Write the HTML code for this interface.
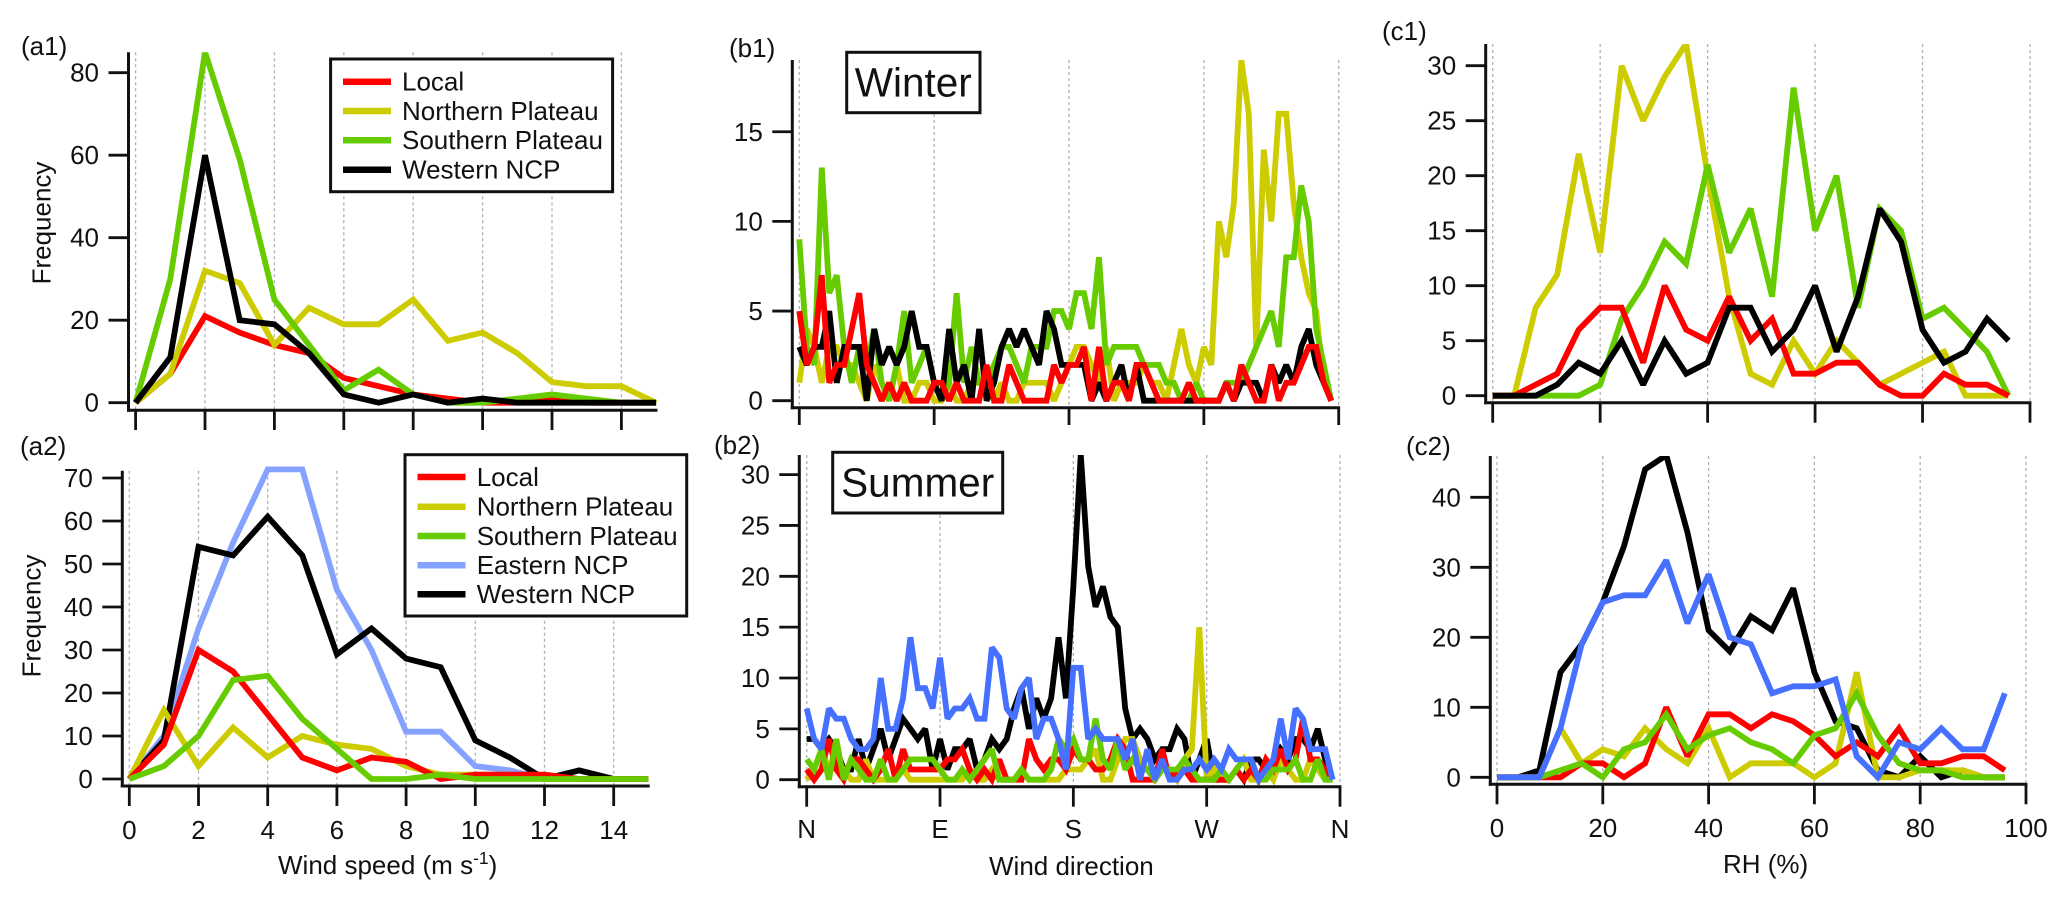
<!DOCTYPE html>
<html lang="en">
<head>
<meta charset="utf-8">
<title>Frequency distributions of wind speed, wind direction and RH</title>
<style>
html,body{margin:0;padding:0;background:#fff;}
svg{display:block;font-family:"Liberation Sans",Arial,sans-serif;}
text{fill:#111;}
</style>
</head>
<body>
<svg id="chart" xmlns="http://www.w3.org/2000/svg" width="2067" height="900" viewBox="0 0 2067 900">
<rect x="0" y="0" width="2067" height="900" fill="#fff"/>
<g id="marks"></g>

<text x="21" y="55" font-size="26">(a1)</text>
<text x="20" y="455" font-size="26">(a2)</text>
<text x="729" y="57" font-size="26">(b1)</text>
<text x="714" y="454" font-size="26">(b2)</text>
<text x="1382" y="40" font-size="26">(c1)</text>
<text x="1406" y="455" font-size="26">(c2)</text>

<text transform="translate(50.7,223) rotate(-90)" text-anchor="middle" font-size="26">Frequency</text>
<text transform="translate(40.5,616) rotate(-90)" text-anchor="middle" font-size="26">Frequency</text>
<text x="278" y="874" font-size="26">Wind speed (m s<tspan dy="-10" font-size="17.5">-1</tspan><tspan dy="10">)</tspan></text>
<text x="989" y="875" font-size="26">Wind direction</text>
<text x="1723" y="873" font-size="26">RH (%)</text>

<g>
<rect x="846.7" y="52.3" width="133.3" height="60.4" fill="#fff" stroke="#111" stroke-width="3"/>
<text x="913.3" y="96.5" text-anchor="middle" font-size="40.5">Winter</text>
</g>
<g>
<rect x="832.7" y="452.3" width="170" height="60.7" fill="#fff" stroke="#111" stroke-width="3"/>
<text x="917.7" y="496.5" text-anchor="middle" font-size="40.5">Summer</text>
</g>

<g>
<rect x="330.6" y="59" width="282" height="132.7" fill="#fff" stroke="#111" stroke-width="3"/>
<g><line x1="343" x2="391" y1="81.7" y2="81.7" stroke="#ff0000" stroke-width="6.5"/><text x="402" y="90.5" font-size="26">Local</text></g>
<g><line x1="343" x2="391" y1="111" y2="111" stroke="#cccc00" stroke-width="6.5"/><text x="402" y="119.8" font-size="26">Northern Plateau</text></g>
<g><line x1="343" x2="391" y1="140.3" y2="140.3" stroke="#66cc00" stroke-width="6.5"/><text x="402" y="149.1" font-size="26">Southern Plateau</text></g>
<g><line x1="343" x2="391" y1="169.7" y2="169.7" stroke="#000" stroke-width="6.5"/><text x="402" y="178.5" font-size="26">Western NCP</text></g>
</g>
<g>
<rect x="405" y="454.7" width="281.7" height="161.3" fill="#fff" stroke="#111" stroke-width="3"/>
<g><line x1="417.5" x2="465.5" y1="477" y2="477" stroke="#ff0000" stroke-width="6.5"/><text x="476.7" y="485.8" font-size="26">Local</text></g>
<g><line x1="417.5" x2="465.5" y1="506.7" y2="506.7" stroke="#cccc00" stroke-width="6.5"/><text x="476.7" y="515.5" font-size="26">Northern Plateau</text></g>
<g><line x1="417.5" x2="465.5" y1="536" y2="536" stroke="#66cc00" stroke-width="6.5"/><text x="476.7" y="544.8" font-size="26">Southern Plateau</text></g>
<g><line x1="417.5" x2="465.5" y1="565.3" y2="565.3" stroke="#85a2ff" stroke-width="6.5"/><text x="476.7" y="574.1" font-size="26">Eastern NCP</text></g>
<g><line x1="417.5" x2="465.5" y1="594.3" y2="594.3" stroke="#000" stroke-width="6.5"/><text x="476.7" y="603.1" font-size="26">Western NCP</text></g>
</g>
</svg>

<script>
// ---- categories ----
const speedBins = [0,1,2,3,4,5,6,7,8,9,10,11,12,13,14,15];
const directionBins = [0,5,10,15,20,25,30,35,40,45,50,55,60,65,70,75,80,85,90,95,100,105,110,115,120,125,130,135,140,145,150,155,160,165,170,175,180,185,190,195,200,205,210,215,220,225,230,235,240,245,250,255,260,265,270,275,280,285,290,295,300,305,310,315,320,325,330,335,340,345,350,355];
const rhBins = [0,4,8,12,16,20,24,28,32,36,40,44,48,52,56,60,64,68,72,76,80,84,88,92,96];

// ---- tick labels ----
const speedTicks = [0,2,4,6,8,10,12,14];
const directionTicks = [0,90,180,270,360];
const directionTickLabels = ['N','E','S','W','N'];
const rhTicks = [0,20,40,60,80,100];
const a1YTicks = [0,20,40,60,80];
const a2YTicks = [0,10,20,30,40,50,60,70];
const b1YTicks = [0,5,10,15];
const b2YTicks = [0,5,10,15,20,25,30];
const c1YTicks = [0,5,10,15,20,25,30];
const c2YTicks = [0,10,20,30,40];

// ---- (a1) winter wind speed ----
const a1Local    = [0,7,21,17,14,12,6,4,2,1,0,0,1,0,0,0];
const a1Northern = [0,7,32,29,14,23,19,19,25,15,17,12,5,4,4,0];
const a1Southern = [0,30,85,59,25,14,3,8,2,0,0,1,2,1,0,0];
const a1Western  = [0,11,60,20,19,12,2,0,2,0,1,0,0,0,0,0];

// ---- (a2) summer wind speed ----
const a2Local    = [0,8,30,25,15,5,2,5,4,0,1,1,1,0,0,0];
const a2Northern = [0,16,3,12,5,10,8,7,3,1,1,1,0,0,0,0];
const a2Southern = [0,3,10,23,24,14,7,0,0,1,0,0,0,0,0,0];
const a2Eastern  = [0,10,35,55,72,72,44,30,11,11,3,2,0,0,0,0];
const a2Western  = [0,9,54,52,61,52,29,35,28,26,9,5,0,2,0,0];

// ---- (b1) winter wind direction ----
const b1Local    = [5,2,3,7,1,2,2,4,6,2,1,0,1,0,1,0,0,0,1,1,0,1,0,0,0,2,0,0,2,1,0,0,0,0,2,1,2,2,3,0,3,0,1,1,0,2,2,1,0,0,0,0,1,0,0,0,0,1,0,2,1,0,0,2,0,1,1,2,3,3,1,0];
const b1Northern = [1,4,3,1,3,3,2,2,1,0,2,1,0,2,0,0,1,1,0,0,1,0,0,1,1,1,0,1,0,0,1,1,1,1,0,1,2,3,3,2,1,3,0,1,1,1,2,1,1,0,2,4,2,1,3,2,10,8,11,19,16,3,14,10,16,16,11,8,6,5,1,0];
const b1Southern = [9,3,2,13,6,7,3,1,3,2,4,1,0,2,5,1,2,3,1,0,1,6,1,3,1,1,2,3,3,2,1,3,3,3,5,5,4,6,6,4,8,2,3,3,3,3,2,2,2,1,1,0,0,1,0,0,0,1,1,1,2,3,4,5,3,8,8,12,10,4,2,0];
const b1Western  = [3,2,3,3,5,1,3,3,3,0,4,2,3,2,3,5,3,3,1,0,4,1,2,0,4,0,1,3,4,3,4,3,2,5,4,2,2,2,2,0,1,0,1,2,0,2,0,0,0,0,0,0,0,0,0,0,0,1,0,1,1,1,0,2,1,2,1,3,4,2,1,0];

// ---- (b2) summer wind direction ----
const b2Local    = [1,0,1,4,1,0,2,2,1,0,1,3,0,3,1,1,1,1,1,2,2,3,1,0,1,0,2,0,0,0,4,2,1,2,2,1,3,2,2,1,1,2,4,3,0,0,0,0,3,0,1,1,0,0,0,0,0,0,1,0,1,0,2,1,3,1,2,6,2,2,1,0];
const b2Northern = [0,1,3,1,2,1,0,0,2,0,0,0,0,1,0,0,0,0,0,0,0,0,1,0,0,1,0,0,0,1,0,0,0,0,0,1,1,1,2,3,0,0,2,4,4,2,1,0,1,1,0,2,3,15,0,1,0,0,1,2,0,0,1,0,2,1,0,0,2,1,0,0];
const b2Southern = [2,1,3,0,4,0,2,1,0,0,2,0,0,1,2,2,2,2,1,0,0,1,0,1,2,3,0,0,0,1,0,0,0,1,4,3,4,2,2,6,2,1,4,1,2,1,1,0,1,1,1,2,1,0,0,0,1,0,1,2,2,0,0,1,1,1,2,0,0,2,0,0];
const b2Eastern  = [7,4,3,7,6,6,4,3,3,4,10,5,5,8,14,9,9,7,12,6,7,7,8,6,6,13,12,7,6,9,10,4,6,6,4,1,11,11,4,5,4,4,4,2,4,0,3,0,2,0,0,1,1,2,1,2,1,3,2,2,2,0,1,2,6,2,7,6,3,3,3,0];
const b2Western  = [4,4,3,4,3,1,1,4,1,3,5,2,4,6,5,4,5,1,4,1,3,3,4,1,2,4,3,4,7,9,5,8,6,8,14,8,19,32,21,17,19,16,15,7,4,5,4,2,3,3,5,4,0,2,4,0,0,0,1,0,2,2,1,1,3,2,4,4,3,5,2,0];

// ---- (c1) winter RH ----
const c1Local    = [0,0,1,2,6,8,8,3,10,6,5,9,5,7,2,2,3,3,1,0,0,2,1,1,0];
const c1Northern = [0,0,8,11,22,13,30,25,29,32,20,9,2,1,5,2,5,3,1,2,3,4,0,0,0];
const c1Southern = [0,0,0,0,0,1,7,10,14,12,21,13,17,9,28,15,20,8,17,15,7,8,6,4,0];
const c1Western  = [0,0,0,1,3,2,5,1,5,2,3,8,8,4,6,10,4,9,17,14,6,3,4,7,5];

// ---- (c2) summer RH ----
const c2Local    = [0,0,0,0,2,2,0,2,10,3,9,9,7,9,8,6,3,5,3,7,2,2,3,3,1];
const c2Northern = [0,0,0,7,2,4,3,7,4,2,7,0,2,2,2,0,2,15,0,0,1,1,1,0,0];
const c2Southern = [0,0,0,1,2,0,4,5,9,4,6,7,5,4,2,6,7,12,6,2,1,1,0,0,0];
const c2Eastern  = [0,0,0,7,19,25,26,26,31,22,29,20,19,12,13,13,14,3,0,5,4,7,4,4,12];
const c2Western  = [0,0,1,15,19,25,33,44,46,35,21,18,23,21,27,15,8,7,1,0,3,0,1,0,0];

// ---- colours ----
const RED = '#ff0000', YELLOW = '#cccc00', GREEN = '#66cc00', BLACK = '#000000', PALE_BLUE = '#85a2ff', BLUE = '#4670ff';

const SVG_NS = 'http://www.w3.org/2000/svg';
const root = document.getElementById('marks');

function make(tag, attrs, parent, name) {
  const el = document.createElementNS(SVG_NS, tag);
  for (const k in attrs) el.setAttribute(k, attrs[k]);
  
  
  parent.appendChild(el);
  return el;
}

function drawPanel(p) {
  const xScale = v => p.xLeft + (v - p.xMin) / (p.xMax - p.xMin) * (p.xRight - p.xLeft);
  const yScale = v => p.yZero - v * p.yPerUnit;
  const g = make('g', {}, root, 'panel-' + p.id);
  const clipTop = p.clipTop === undefined ? p.top : p.clipTop;

  const defs = make('defs', {}, g, 'clip-defs-' + p.id);
  const clip = make('clipPath', { id: 'clip-' + p.id }, defs, 'clip-' + p.id);
  make('rect', { x: p.axisX, y: clipTop, width: p.xRight - p.axisX + 4, height: p.axisY - clipTop }, clip, 'clip-rect-' + p.id);

  // vertical dotted grid
  p.xTicks.forEach(t => {
    make('line', { x1: xScale(t), x2: xScale(t), y1: p.top, y2: p.axisY, stroke: '#b0b0b0', 'stroke-width': 1.3, 'stroke-dasharray': '3 3' }, g, 'grid-line-' + p.id);
  });

  // series
  const lines = make('g', { 'clip-path': 'url(#clip-' + p.id + ')' }, g, 'series-' + p.id);
  p.series.forEach(s => {
    const pts = s.values.map((v, i) => xScale(p.categories[i]).toFixed(2) + ',' + yScale(v).toFixed(2)).join(' ');
    make('polyline', { points: pts, fill: 'none', stroke: s.color, 'stroke-width': 5.8, 'stroke-linejoin': 'miter', 'stroke-miterlimit': 2.2, 'stroke-linecap': 'butt' }, lines, 'line-' + p.id + '-' + s.name);
  });

  // axes
  make('line', { x1: p.axisX, x2: p.axisX, y1: p.top, y2: p.axisY + 1.5, stroke: '#111', 'stroke-width': 3 }, g, 'y-axis-' + p.id);
  make('line', { x1: p.axisX - 1.5, x2: p.xRight + 1.4, y1: p.axisY, y2: p.axisY, stroke: '#111', 'stroke-width': 3 }, g, 'x-axis-' + p.id);

  p.yTicks.forEach(t => {
    make('line', { x1: p.axisX - 20, x2: p.axisX, y1: yScale(t), y2: yScale(t), stroke: '#111', 'stroke-width': 2.8 }, g, 'y-tick-' + p.id);
    const lab = make('text', { x: p.axisX - 29.5, y: yScale(t) + 9, 'text-anchor': 'end', 'font-size': 26 }, g, 'y-tick-label-' + p.id);
    lab.textContent = t;
  });

  p.xTicks.forEach((t, i) => {
    make('line', { x1: xScale(t), x2: xScale(t), y1: p.axisY, y2: p.tickEnd, stroke: '#111', 'stroke-width': 2.8 }, g, 'x-tick-' + p.id);
    if (p.xLabels) {
      const lab = make('text', { x: xScale(t), y: p.labelY, 'text-anchor': 'middle', 'font-size': 26 }, g, 'x-tick-label-' + p.id);
      lab.textContent = p.xLabels[i];
    }
  });
}

drawPanel({ id: 'a1', categories: speedBins, xMin: 0, xMax: 15, xLeft: 135.6, xRight: 656.1, yZero: 402.7, yPerUnit: 4.125, top: 52.3, axisX: 128.5, axisY: 410.3, tickEnd: 430,
  xTicks: speedTicks, yTicks: a1YTicks,
  series: [
    { name: 'local', color: RED, values: a1Local },
    { name: 'northern-plateau', color: YELLOW, values: a1Northern },
    { name: 'southern-plateau', color: GREEN, values: a1Southern },
    { name: 'western-ncp', color: BLACK, values: a1Western }
  ] });

drawPanel({ id: 'a2', categories: speedBins, xMin: 0, xMax: 15, xLeft: 129.3, xRight: 648.3, yZero: 779, yPerUnit: 4.3, top: 470.7, clipTop: 465, axisX: 122.3, axisY: 786, tickEnd: 806,
  xTicks: speedTicks, yTicks: a2YTicks, xLabels: speedTicks, labelY: 839,
  series: [
    { name: 'eastern-ncp', color: PALE_BLUE, values: a2Eastern },
    { name: 'western-ncp', color: BLACK, values: a2Western },
    { name: 'northern-plateau', color: YELLOW, values: a2Northern },
    { name: 'local', color: RED, values: a2Local },
    { name: 'southern-plateau', color: GREEN, values: a2Southern }
  ] });

drawPanel({ id: 'b1', categories: directionBins, xMin: 0, xMax: 360, xLeft: 799.3, xRight: 1338.7, yZero: 400.7, yPerUnit: 17.93, top: 60, axisX: 792.3, axisY: 407.7, tickEnd: 425,
  xTicks: directionTicks, yTicks: b1YTicks,
  series: [
    { name: 'northern-plateau', color: YELLOW, values: b1Northern },
    { name: 'southern-plateau', color: GREEN, values: b1Southern },
    { name: 'western-ncp', color: BLACK, values: b1Western },
    { name: 'local', color: RED, values: b1Local }
  ] });

drawPanel({ id: 'b2', categories: directionBins, xMin: 0, xMax: 360, xLeft: 806.7, xRight: 1340, yZero: 779.7, yPerUnit: 10.17, top: 455, axisX: 799.3, axisY: 786.7, tickEnd: 806.7,
  xTicks: directionTicks, yTicks: b2YTicks, xLabels: directionTickLabels, labelY: 838,
  series: [
    { name: 'western-ncp', color: BLACK, values: b2Western },
    { name: 'northern-plateau', color: YELLOW, values: b2Northern },
    { name: 'local', color: RED, values: b2Local },
    { name: 'southern-plateau', color: GREEN, values: b2Southern },
    { name: 'eastern-ncp', color: BLUE, values: b2Eastern }
  ] });

drawPanel({ id: 'c1', categories: rhBins, xMin: 0, xMax: 100, xLeft: 1492.7, xRight: 2030, yZero: 395.7, yPerUnit: 11, top: 44, axisX: 1485.7, axisY: 402.7, tickEnd: 422.7,
  xTicks: rhTicks, yTicks: c1YTicks,
  series: [
    { name: 'northern-plateau', color: YELLOW, values: c1Northern },
    { name: 'southern-plateau', color: GREEN, values: c1Southern },
    { name: 'local', color: RED, values: c1Local },
    { name: 'western-ncp', color: BLACK, values: c1Western }
  ] });

drawPanel({ id: 'c2', categories: rhBins, xMin: 0, xMax: 100, xLeft: 1497, xRight: 2026, yZero: 777.3, yPerUnit: 7, top: 456, axisX: 1490.3, axisY: 784.3, tickEnd: 804.3,
  xTicks: rhTicks, yTicks: c2YTicks, xLabels: rhTicks, labelY: 837,
  series: [
    { name: 'western-ncp', color: BLACK, values: c2Western },
    { name: 'northern-plateau', color: YELLOW, values: c2Northern },
    { name: 'local', color: RED, values: c2Local },
    { name: 'southern-plateau', color: GREEN, values: c2Southern },
    { name: 'eastern-ncp', color: BLUE, values: c2Eastern }
  ] });
</script>
</body>
</html>
